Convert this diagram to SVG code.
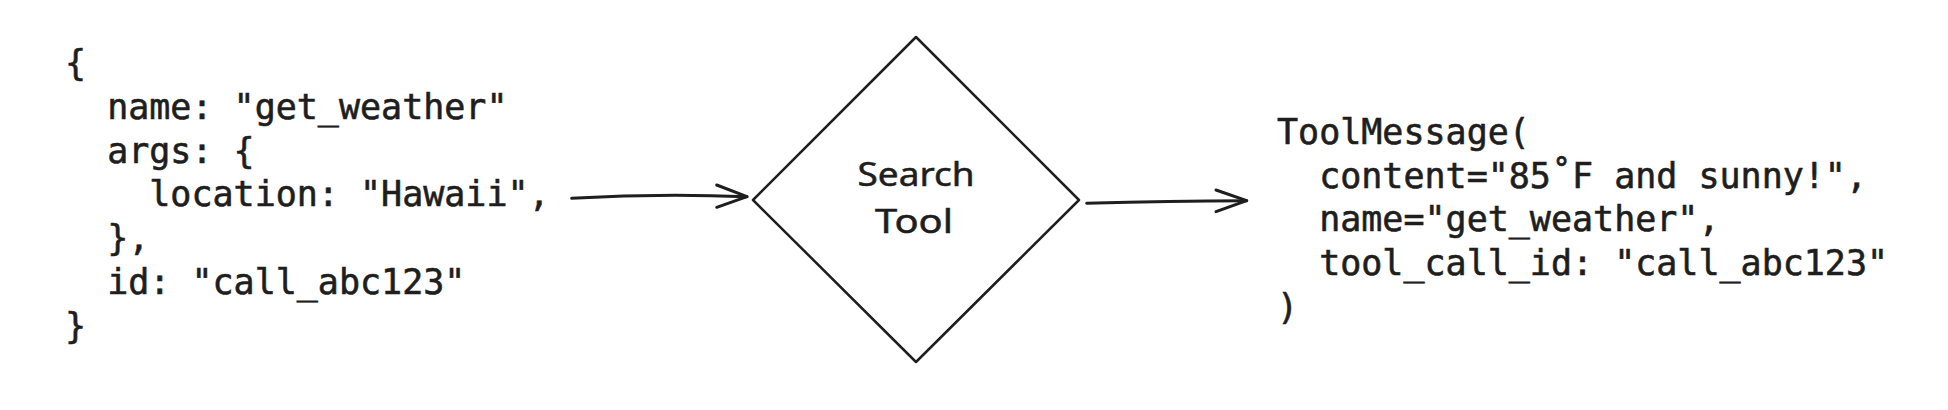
<svg xmlns="http://www.w3.org/2000/svg" width="1948" height="410" viewBox="0 0 1948 410">
  <style>
    .code { font-family: "DejaVu Sans Mono", "Liberation Mono", monospace; font-size: 35px; fill: #1e1e1e; stroke: #1e1e1e; stroke-width: 0.6; white-space: pre; }
    .hand { font-family: "Noto Sans", "Liberation Sans", sans-serif; font-size: 32px; fill: #1e1e1e; stroke: #1e1e1e; stroke-width: 0.5; text-anchor: middle; }
    .shape { fill: none; stroke: #1e1e1e; stroke-width: 2.5; stroke-linejoin: round; }
    .conn { fill: none; stroke: #1e1e1e; stroke-width: 3; stroke-linecap: round; stroke-linejoin: round; }
  </style>
  <rect width="1948" height="410" fill="#ffffff"/>
  <g id="tool-call">
    <text class="code" xml:space="preserve">
      <tspan x="65" y="75">{</tspan>
      <tspan x="65" y="119">  name: "get_weather"</tspan>
      <tspan x="65" y="162.5">  args: {</tspan>
      <tspan x="65" y="206.3">    location: "Hawaii",</tspan>
      <tspan x="65" y="250">  },</tspan>
      <tspan x="65" y="293.8">  id: "call_abc123"</tspan>
      <tspan x="65" y="337.5">}</tspan>
    </text>
  </g>
  <g id="search-tool">
    <polygon class="shape" points="916,37 1079,200 916,362 753,200"/>
    <text class="hand" x="916" y="186" textLength="117" lengthAdjust="spacingAndGlyphs">Search</text>
    <text class="hand" x="914" y="232.5" textLength="78" lengthAdjust="spacingAndGlyphs">Tool</text>
  </g>
  <g id="tool-message">
    <text class="code" xml:space="preserve">
      <tspan x="1277" y="144">ToolMessage(</tspan>
      <tspan x="1277" y="187.7">  content="85˚F and sunny!",</tspan>
      <tspan x="1277" y="231.4">  name="get_weather",</tspan>
      <tspan x="1277" y="275.1">  tool_call_id: "call_abc123"</tspan>
      <tspan x="1277" y="318.8">)</tspan>
    </text>
  </g>
  <g id="connectors">
    <path class="conn" d="M571.7,198.3 Q660,193 747,196.7"/>
    <path class="conn" d="M716.7,185 L747,196.7 L716.7,207.3"/>
    <path class="conn" d="M1086.7,203.3 Q1170,201 1246.7,200.7"/>
    <path class="conn" d="M1216,190 L1246.7,200.7 L1216,211.7"/>
  </g>
</svg>
